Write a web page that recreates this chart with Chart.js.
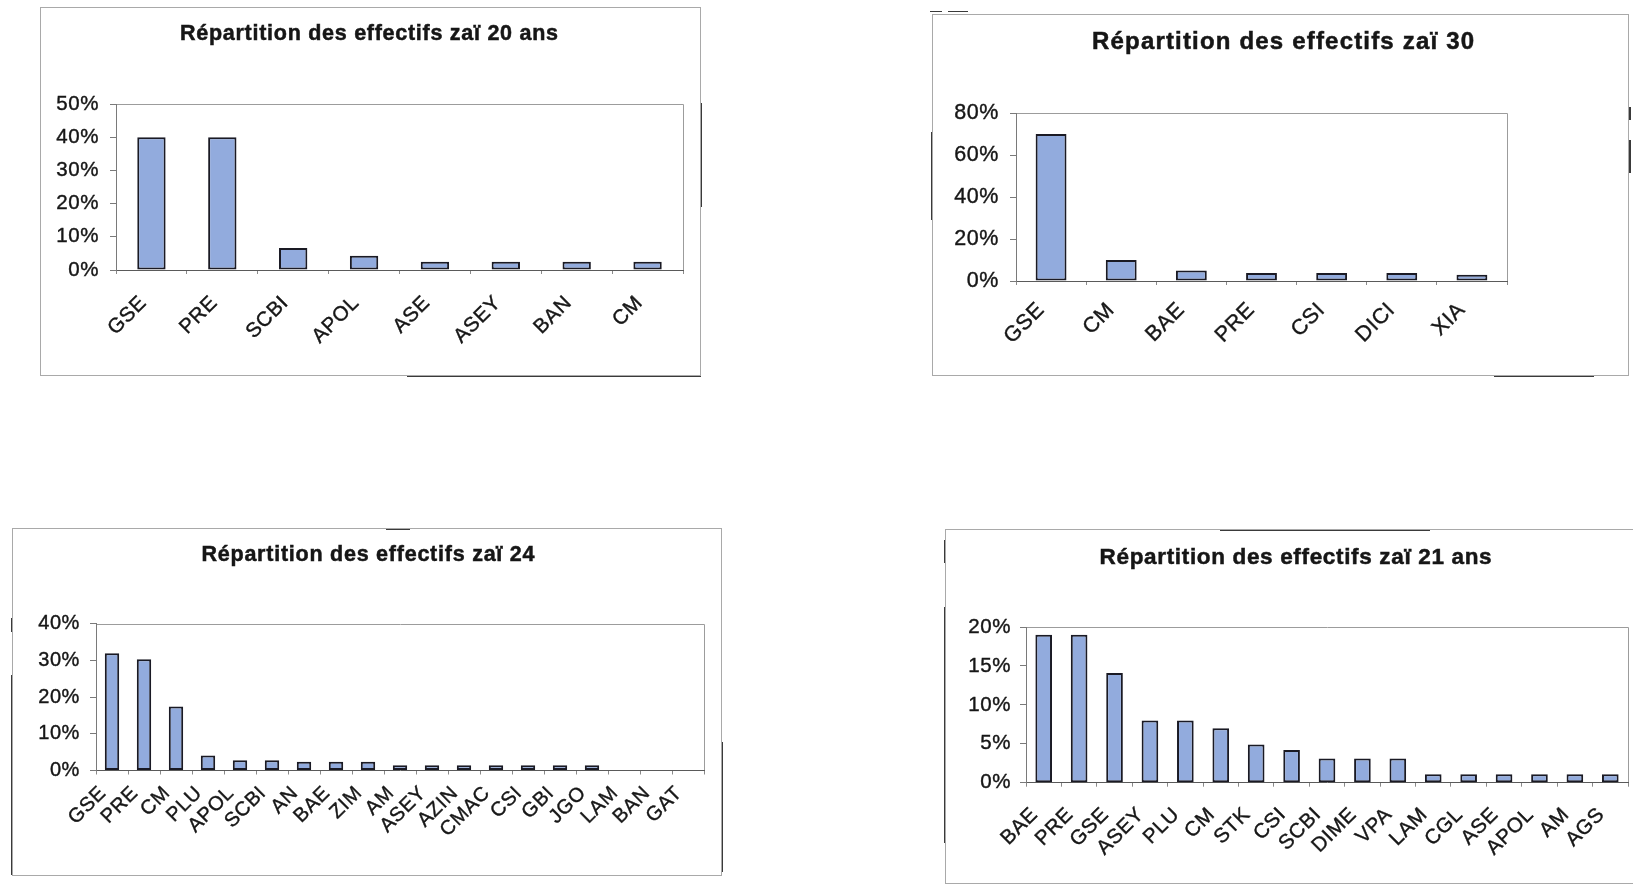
<!DOCTYPE html>
<html>
<head>
<meta charset="utf-8">
<script src="https://cdn.jsdelivr.net/npm/chart.js@4.4.1/dist/chart.umd.min.js"></script>
<style>
  html, body { margin: 0; padding: 0; background: #fff; overflow: hidden; width: 1633px; height: 887px; position: relative; }
  .frame { position: absolute; box-sizing: border-box; border: 1px solid #a9a9a9; }
  .edge { position: absolute; background: #3a3a3a; }
  canvas { position: absolute; }
</style>
</head>
<body>
<script>
// Répartition des effectifs par variété dans quatre parcelles zaï (en %)
const categories20 = ['GSE', 'PRE', 'SCBI', 'APOL', 'ASE', 'ASEY', 'BAN', 'CM'];
const share20 = [40, 40, 6.6, 4.3, 2.5, 2.5, 2.5, 2.5];
const yTicks20 = [0, 10, 20, 30, 40, 50];

const categories30 = ['GSE', 'CM', 'BAE', 'PRE', 'CSI', 'DICI', 'XIA'];
const share30 = [70, 10, 5, 3.8, 3.8, 3.8, 3];
const yTicks30 = [0, 20, 40, 60, 80];

const categories24 = ['GSE', 'PRE', 'CM', 'PLU', 'APOL', 'SCBI', 'AN', 'BAE', 'ZIM', 'AM',
                      'ASEY', 'AZIN', 'CMAC', 'CSI', 'GBI', 'JGO', 'LAM', 'BAN', 'GAT'];
const share24 = [31.9, 30.3, 17.4, 4.1, 2.8, 2.8, 2.4, 2.4, 2.4, 1.4,
                 1.4, 1.4, 1.4, 1.4, 1.4, 1.4, 0, 0, 0];
const yTicks24 = [0, 10, 20, 30, 40];

const categories21 = ['BAE', 'PRE', 'GSE', 'ASEY', 'PLU', 'CM', 'STK', 'CSI', 'SCBI',
                      'DIME', 'VPA', 'LAM', 'CGL', 'ASE', 'APOL', 'AM', 'AGS'];
const share21 = [19, 19, 14.1, 8, 8, 7, 4.9, 4.2, 3.1, 3.1, 3.1, 1.1, 1.1, 1.1, 1.1, 1.1, 1.1];
const yTicks21 = [0, 5, 10, 15, 20];

// Page layout of the four panels: frame box, plot box, title placement and text sizes
const panels = [
  { title: 'Répartition des effectifs zaï 20 ans', labels: categories20, values: share20, yTicks: yTicks20,
    frame: [40, 7, 701, 376], plot: [116, 104, 683, 270],
    titleAt: [369, 34.5], titleSize: 21.5, titleWidth: 378,
    font: 20.5, bar: 0.40, yPad: 11, xPad: 17, xOff: -8 },
  { title: 'Répartition des effectifs zaï 30', labels: categories30, values: share30, yTicks: yTicks30,
    frame: [932, 14, 1629, 376], plot: [1016, 113, 1507, 281],
    titleAt: [1283, 42.7], titleSize: 24, titleWidth: 382,
    font: 21.5, bar: 0.44, yPad: 11, xPad: 12.5, xOff: -10 },
  { title: 'Répartition des effectifs zaï 24', labels: categories24, values: share24, yTicks: yTicks24,
    frame: [12, 528, 722, 876], plot: [96, 623.5, 704, 770.5],
    titleAt: [368, 555], titleSize: 21.5, titleWidth: 333,
    font: 20, bar: 0.45, yPad: 10, xPad: 7, xOff: -9 },
  { title: 'Répartition des effectifs zaï 21 ans', labels: categories21, values: share21, yTicks: yTicks21,
    frame: [945, 529, 1645, 884], plot: [1026, 627, 1628, 782.7],
    titleAt: [1295.6, 558], titleSize: 22.5, titleWidth: 392,
    font: 20.5, bar: 0.47, yPad: 9, xPad: 16, xOff: -9 }
];

// Darker stretches along the panel borders
const edgeMarks = [
  [700, 103, 2, 104], [1629, 107, 2, 13], [1629, 140, 2, 33],
  [931, 132, 2, 88], [930, 11, 12, 1], [948, 11, 20, 1],
  [407, 375, 294, 1.5], [1494, 375, 100, 1.5],
  [11, 618, 2, 14], [11, 675, 1.5, 200], [721, 742, 2, 130], [386, 528, 24, 1.5],
  [944, 607, 2, 236], [944, 540, 1.5, 23], [1220, 529, 210, 1.5]
];

const FAMILY = '"Liberation Sans", Arial, sans-serif';

// Plot-area outline, slightly spaced text and the centred bold title
const panelDecor = {
  id: 'panelDecor',
  beforeDraw(chart, args, o) {
    const ctx = chart.ctx;
    const { left, top, right, bottom } = chart.chartArea;
    ctx.save();
    ctx.strokeStyle = '#9c9c9c';
    ctx.lineWidth = 1;
    ctx.beginPath();
    ctx.moveTo(Math.round(left) + 0.5, Math.round(top) + 0.5);
    ctx.lineTo(Math.round(right) + 0.5, Math.round(top) + 0.5);
    ctx.lineTo(Math.round(right) + 0.5, Math.round(bottom) + 0.5);
    ctx.stroke();
    ctx.restore();
    ctx.letterSpacing = '0.6px';
  },
  afterDraw(chart, args, o) {
    const ctx = chart.ctx;
    ctx.save();
    ctx.font = 'bold ' + o.size + 'px ' + FAMILY;
    ctx.letterSpacing = '0px';
    const w0 = ctx.measureText(o.text).width;
    const gap = Math.max(0, (o.width - w0) / (o.text.length - 1));
    ctx.letterSpacing = gap + 'px';
    ctx.fillStyle = '#161616';
    ctx.strokeStyle = '#161616';
    ctx.lineWidth = 0.5;
    ctx.textAlign = 'center';
    ctx.textBaseline = 'middle';
    ctx.fillText(o.text, o.x + gap / 2, o.y);
    ctx.strokeText(o.text, o.x + gap / 2, o.y);
    ctx.restore();
  }
};

edgeMarks.forEach(([x, y, w, h]) => {
  const d = document.createElement('div');
  d.className = 'edge';
  Object.assign(d.style, { left: x + 'px', top: y + 'px', width: w + 'px', height: h + 'px' });
  document.body.append(d);
});

panels.forEach(p => {
  const [fl, ft, fr, fb] = p.frame;
  const [pl, pt, pr, pb] = p.plot;
  const W = fr - fl, H = fb - ft;

  const box = document.createElement('div');
  box.className = 'frame';
  Object.assign(box.style, { left: fl + 'px', top: ft + 'px', width: W + 'px', height: H + 'px' });

  const cv = document.createElement('canvas');
  cv.width = W; cv.height = H;
  Object.assign(cv.style, { left: fl + 'px', top: ft + 'px', width: W + 'px', height: H + 'px' });
  document.body.append(box, cv);

  const tickText = {
    color: '#161616', textStrokeColor: '#161616', textStrokeWidth: 0.4,
    font: { family: FAMILY, size: p.font }
  };

  new Chart(cv, {
    type: 'bar',
    data: {
      labels: p.labels,
      datasets: [{
        data: p.values,
        backgroundColor: '#92abdd',
        borderColor: '#1a1a24',
        borderWidth: 2,
        borderSkipped: false,
        barPercentage: p.bar,
        categoryPercentage: 1
      }]
    },
    options: {
      responsive: false,
      animation: false,
      devicePixelRatio: 1,
      layout: { padding: { left: 0, top: pt - ft, right: fr - pr, bottom: 0 } },
      plugins: {
        legend: { display: false },
        tooltip: { enabled: false },
        title: { display: false },
        panelDecor: {
          text: p.title, size: p.titleSize, width: p.titleWidth,
          x: p.titleAt[0] - fl, y: p.titleAt[1] - ft
        }
      },
      scales: {
        x: {
          grid: { drawOnChartArea: false, tickLength: 4, color: '#8a8a8a', offset: true },
          border: { color: '#5a5a5a', width: 1 },
          ticks: Object.assign({
            autoSkip: false, minRotation: 45, maxRotation: 45,
            padding: p.xPad, labelOffset: p.xOff
          }, tickText),
          afterFit: s => { s.height = fb - pb; }
        },
        y: {
          min: p.yTicks[0],
          max: p.yTicks[p.yTicks.length - 1],
          grid: { drawOnChartArea: false, tickLength: 6, color: '#7a7a7a' },
          border: { color: '#7a7a7a', width: 1 },
          ticks: Object.assign({
            padding: p.yPad,
            callback: v => v + '%'
          }, tickText),
          afterBuildTicks: s => { s.ticks = p.yTicks.map(v => ({ value: v })); },
          afterFit: s => { s.width = pl - fl; }
        }
      }
    },
    plugins: [panelDecor]
  });
});
</script>
</body>
</html>
